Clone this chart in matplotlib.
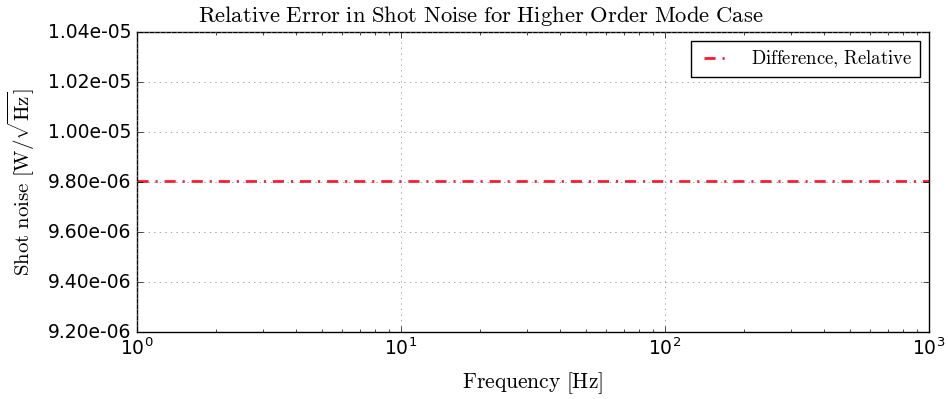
import numpy as np
import matplotlib
matplotlib.use('Agg')
import matplotlib.pyplot as plt
from matplotlib.ticker import FormatStrFormatter

plt.style.use('classic')
plt.rcParams['mathtext.fontset'] = 'cm'

# frequency axis and the relative difference
freq = [1, 1000]
rel_diff = [9.805e-06, 9.805e-06]

fig = plt.figure(figsize=(9.48, 3.99), dpi=100)
ax = fig.add_axes([137/948, 1-332/399, (929-137)/948, 300/399])

line, = ax.plot(freq, rel_diff, color='#ff1a33', ls='-.', lw=2,
                label=r'$\mathrm{Difference{,}\ Relative}$')
line.set_dashes((8, 5, 1.5, 5))

ax.set_xscale('log')
ax.set_xlim(1, 1000)
ax.set_ylim(9.2e-06, 1.04e-05)
ax.yaxis.set_major_formatter(FormatStrFormatter('%.2e'))
ax.tick_params(labelsize=13.5)
ax.grid(True, color='gray', ls=':')

fig.text(481/948, 1-22/399, r'$\mathrm{Relative\ Error\ in\ Shot\ Noise\ for\ Higher\ Order\ Mode\ Case}$',
         fontsize=16.3, ha='center', va='baseline')
ax.set_xlabel(r'$\mathrm{Frequency\ [Hz]}$', fontsize=15.5, labelpad=8)
ax.set_ylabel(r'$\mathrm{Shot\ noise\ [W/\sqrt{Hz}]}$', fontsize=15, labelpad=8)

leg = ax.legend(loc='upper right', fontsize=13.5, fancybox=False, handlelength=2.0,
                borderaxespad=0.5)
leg.get_frame().set_edgecolor('black')

fig.savefig('out.png', dpi=100)
